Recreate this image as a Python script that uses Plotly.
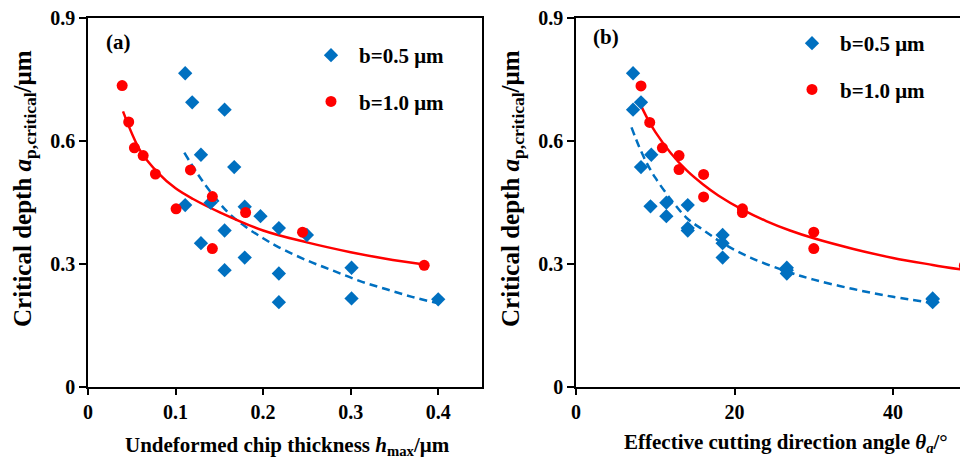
import plotly.graph_objects as go

# ---------------- data ----------------
# Panel (a): critical depth vs undeformed chip thickness
a_blue_x = [0.111, 0.119, 0.156, 0.129, 0.167, 0.111, 0.140, 0.179, 0.197, 0.218,
            0.250, 0.156, 0.129, 0.179, 0.156, 0.218, 0.301, 0.218, 0.301, 0.400]
a_blue_y = [0.765, 0.694, 0.676, 0.566, 0.536, 0.443, 0.449, 0.439, 0.416, 0.387,
            0.370, 0.381, 0.350, 0.315, 0.284, 0.276, 0.290, 0.206, 0.215, 0.213]
a_red_x = [0.039, 0.0465, 0.053, 0.063, 0.077, 0.117, 0.142, 0.1006, 0.180, 0.245, 0.142, 0.384]
a_red_y = [0.735, 0.646, 0.583, 0.564, 0.519, 0.529, 0.464, 0.434, 0.425, 0.377, 0.337, 0.296]

# fitted trend curves
a_blue_fit_x = [0.110, 0.125, 0.140, 0.160, 0.180, 0.200, 0.218, 0.250, 0.280, 0.310, 0.340, 0.370, 0.400]
a_blue_fit_y = [0.571, 0.520, 0.475, 0.425, 0.390, 0.362, 0.340, 0.308, 0.283, 0.258, 0.238, 0.219, 0.203]
a_red_fit_x = [0.040, 0.060, 0.080, 0.100, 0.120, 0.150, 0.200, 0.250, 0.300, 0.340, 0.384]
a_red_fit_y = [0.672, 0.575, 0.522, 0.484, 0.458, 0.426, 0.381, 0.352, 0.328, 0.312, 0.298]

# Panel (b): critical depth vs effective cutting direction angle
b_blue_x = [7.2, 8.2, 7.2, 9.5, 8.2, 9.4, 11.4, 14.1, 11.4, 14.1,
            14.1, 18.5, 18.5, 18.5, 26.6, 26.6, 26.6, 45.0, 45.0, 45.0]
b_blue_y = [0.765, 0.694, 0.676, 0.566, 0.536, 0.440, 0.449, 0.443, 0.416, 0.387,
            0.381, 0.370, 0.350, 0.315, 0.290, 0.284, 0.276, 0.215, 0.213, 0.206]
b_red_x = [8.2, 9.3, 10.9, 13.0, 13.0, 16.1, 16.1, 21.0, 21.0, 30.0, 30.0, 49.0]
b_red_y = [0.734, 0.645, 0.583, 0.564, 0.530, 0.518, 0.463, 0.434, 0.425, 0.377, 0.337, 0.295]

b_blue_fit_x = [7.0, 8.0, 9.0, 10.0, 12.0, 14.0, 16.0, 18.5, 22.0, 26.6, 30.0, 35.0, 40.0, 45.0]
b_blue_fit_y = [0.633, 0.584, 0.543, 0.510, 0.456, 0.411, 0.383, 0.350, 0.315, 0.281, 0.261, 0.238, 0.219, 0.204]
b_red_fit_x = [8.2, 9.0, 10.0, 12.0, 14.0, 16.0, 18.0, 21.0, 24.0, 27.0, 30.0, 35.0, 40.0, 45.0, 49.5]
b_red_fit_y = [0.686, 0.655, 0.622, 0.569, 0.527, 0.494, 0.466, 0.432, 0.404, 0.381, 0.362, 0.336, 0.314, 0.297, 0.283]

x_a_ticks = [0, 0.1, 0.2, 0.3, 0.4]
x_a_ticktext = ["0", "0.1", "0.2", "0.3", "0.4"]
x_b_ticks = [0, 20, 40]
x_b_ticktext = ["0", "20", "40"]
y_ticks = [0, 0.3, 0.6, 0.9]
y_ticktext = ["0", "0.3", "0.6", "0.9"]

series_names = ["b=0.5 μm", "b=1.0 μm"]

# ---------------- style ----------------
# the page body has an 8px margin, so the figure is placed at (8, 8)
OFF = 8
W, H = 968 - OFF, 466 - OFF
FONT = "Liberation Serif"
BLUE = "#0070C0"
RED = "#FF0000"

def px_x(p):
    return (p - OFF) / W

def px_y(p):
    return (H - (p - OFF)) / H

fig = go.Figure()

# panel a
fig.add_trace(go.Scatter(x=a_blue_fit_x, y=a_blue_fit_y, mode="lines", line_shape="spline",
                         line=dict(color=BLUE, width=2.5, dash="8px,5px"),
                         showlegend=False, hoverinfo="skip", xaxis="x", yaxis="y"))
fig.add_trace(go.Scatter(x=a_red_fit_x, y=a_red_fit_y, mode="lines", line_shape="spline",
                         line=dict(color=RED, width=2.5),
                         showlegend=False, hoverinfo="skip", xaxis="x", yaxis="y"))
fig.add_trace(go.Scatter(x=a_blue_x, y=a_blue_y, mode="markers", name=series_names[0],
                         marker=dict(symbol="diamond", size=11, color=BLUE),
                         legend="legend", legendgroup="a1", xaxis="x", yaxis="y"))
fig.add_trace(go.Scatter(x=a_red_x, y=a_red_y, mode="markers", name=series_names[1],
                         marker=dict(symbol="circle", size=11, color=RED),
                         legend="legend", legendgroup="a2", xaxis="x", yaxis="y"))

# panel b
fig.add_trace(go.Scatter(x=b_blue_fit_x, y=b_blue_fit_y, mode="lines", line_shape="spline",
                         line=dict(color=BLUE, width=2.5, dash="8px,5px"),
                         showlegend=False, hoverinfo="skip", xaxis="x2", yaxis="y2"))
fig.add_trace(go.Scatter(x=b_red_fit_x, y=b_red_fit_y, mode="lines", line_shape="spline",
                         line=dict(color=RED, width=2.5),
                         showlegend=False, hoverinfo="skip", xaxis="x2", yaxis="y2"))
fig.add_trace(go.Scatter(x=b_blue_x, y=b_blue_y, mode="markers", name=series_names[0],
                         marker=dict(symbol="diamond", size=11, color=BLUE),
                         legend="legend2", legendgroup="b1", xaxis="x2", yaxis="y2"))
fig.add_trace(go.Scatter(x=b_red_x, y=b_red_y, mode="markers", name=series_names[1],
                         marker=dict(symbol="circle", size=11, color=RED),
                         legend="legend2", legendgroup="b2", xaxis="x2", yaxis="y2"))

tickfont = dict(family=FONT, size=20, color="black", weight="bold")
axis_common = dict(showline=True, linecolor="black", linewidth=1.5, ticks="outside",
                   ticklen=7, tickwidth=1.5, tickcolor="black", showgrid=False,
                   zeroline=False, tickfont=tickfont, automargin=False,
                   ticklabeloverflow="allow")

ydom = [px_y(386.5), px_y(18)]

legend_common = dict(font=dict(family=FONT, size=21, color="black", weight="bold"),
                     bgcolor="rgba(0,0,0,0)", borderwidth=0, tracegroupgap=16,
                     traceorder="grouped", xanchor="left", yanchor="top",
                     itemwidth=46, itemclick=False, itemdoubleclick=False)

fig.update_layout(
    width=W, height=H,
    margin=dict(l=0, r=0, t=0, b=0, pad=0, autoexpand=False),
    paper_bgcolor="white", plot_bgcolor="white",
    xaxis=dict(domain=[px_x(88), px_x(482)], range=[0, 0.45], tickvals=x_a_ticks,
               ticktext=x_a_ticktext, mirror=True, anchor="y", **axis_common),
    yaxis=dict(domain=ydom, range=[0, 0.9], tickvals=y_ticks, ticktext=y_ticktext,
               mirror=True, anchor="x", **axis_common),
    xaxis2=dict(domain=[px_x(576), 1.0], range=[0, 49.46], tickvals=x_b_ticks,
                ticktext=x_b_ticktext, mirror=True, anchor="y2", **axis_common),
    yaxis2=dict(domain=ydom, range=[0, 0.9], tickvals=y_ticks, ticktext=y_ticktext,
                mirror=False, anchor="x2", **axis_common),
    legend=dict(x=px_x(303), y=px_y(35), **legend_common),
    legend2=dict(x=px_x(784), y=px_y(23), **legend_common),
    showlegend=True,
)

title_font_x = dict(family=FONT, size=21, color="black", weight="bold")
title_font_y = dict(family=FONT, size=25, color="black", weight="bold")

def ann(text, x, y, font, angle=0):
    return dict(text=text, x=px_x(x), y=px_y(y), xref="paper", yref="paper",
                xanchor="center", yanchor="middle", textangle=angle,
                showarrow=False, font=font)

annotations = [
    ann("(a)", 118, 42, dict(family=FONT, size=21, color="black", weight="bold")),
    ann("(b)", 606, 37, dict(family=FONT, size=21, color="black", weight="bold")),
    ann("Critical depth <i>a</i><sub>p,critical</sub>/μm", 24, 189, title_font_y, -90),
    ann("Critical depth <i>a</i><sub>p,critical</sub>/μm", 512, 189, title_font_y, -90),
    ann("Undeformed chip thickness <i>h</i><sub>max</sub>/μm", 287, 446, title_font_x),
    ann("Effective cutting direction angle <i>θ<sub>a</sub></i>/°", 786, 443, title_font_x),
]
fig.update_layout(annotations=annotations)

fig.write_html("out.html")
